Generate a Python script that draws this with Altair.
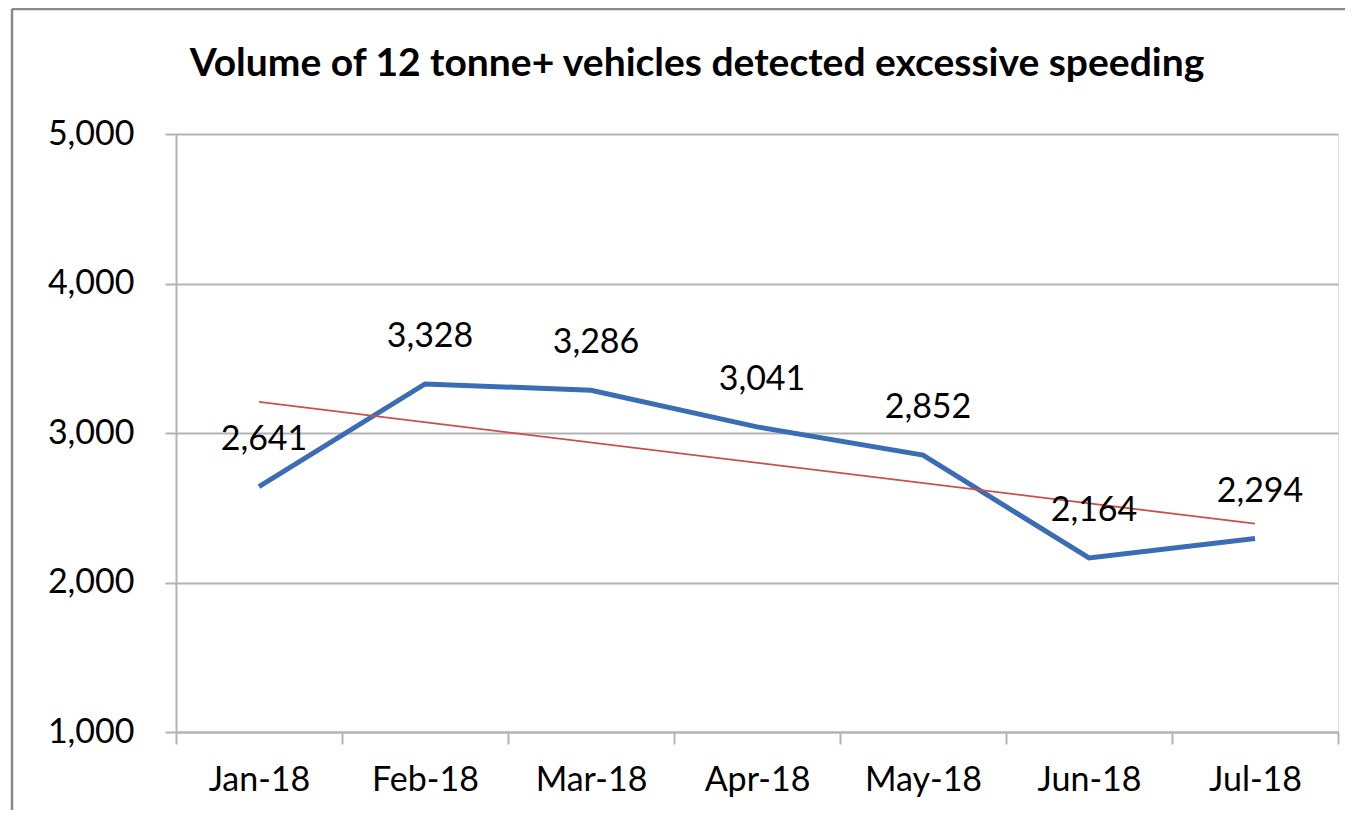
import altair as alt
import pandas as pd
import numpy as np

months = ["Jan-18", "Feb-18", "Mar-18", "Apr-18", "May-18", "Jun-18", "Jul-18"]
values = [2641, 3328, 3286, 3041, 2852, 2164, 2294]
y_ticks = [1000, 2000, 3000, 4000, 5000]
title_text = "Volume of 12 tonne+ vehicles detected excessive speeding"

idx = np.arange(1, len(values) + 1)
slope, intercept = np.polyfit(idx, values, 1)
trend = [slope * i + intercept for i in idx]

df = pd.DataFrame({"month": months, "value": values, "trend": trend})
tdf = pd.DataFrame({"month": [months[0], months[-1]], "trend": [trend[0], trend[-1]]})

FONT = "Lato"
GRID = "#b3b3b3"
FS = 34

xenc = alt.X("month:N", sort=months, title=None,
             scale=alt.Scale(type="band", paddingInner=0, paddingOuter=0),
             bandPosition=0.5,
             axis=alt.Axis(labelAngle=0, tickBand="extent", tickSize=12, tickColor=GRID,
                           domainColor=GRID, domainWidth=2, tickWidth=2, grid=False,
                           labelFont=FONT, labelFontSize=FS, labelColor="#000000",
                           labelPadding=19))
yscale = alt.Scale(domain=[1000, 5000], nice=False, zero=False)
yenc = alt.Y("value:Q", scale=yscale, title=None,
             axis=alt.Axis(values=y_ticks, format=",.0f", tickSize=11, tickColor=GRID,
                           domainColor=GRID, domainWidth=2, tickWidth=2,
                           gridColor=GRID, gridWidth=2,
                           labelFont=FONT, labelFontSize=FS, labelColor="#000000",
                           labelPadding=31))

base = alt.Chart(df)

line = base.mark_line(color="#3b6db4", strokeWidth=5).encode(x=xenc, y=yenc)

trend_line = alt.Chart(tdf).mark_line(color="#c9504d", strokeWidth=1.8).encode(
    x=alt.X("month:N", sort=months, bandPosition=0.5),
    y=alt.Y("trend:Q", scale=yscale))

labels = base.mark_text(font=FONT, fontSize=FS, color="#000000", baseline="alphabetic",
                        dy=-37, dx=5).encode(
    x=alt.X("month:N", sort=months, bandPosition=0.5),
    y=alt.Y("value:Q", scale=yscale),
    text=alt.Text("value:Q", format=","))

one = pd.DataFrame({"a": [0]})
title = alt.Chart(one).mark_text(text=title_text, font=FONT, fontSize=39, fontWeight="bold",
                                 color="#000000", baseline="middle", align="center").encode(
    x=alt.value(521), y=alt.value(-70))

frame_left = alt.Chart(one).mark_rule(color="#8a8a8a", strokeWidth=2.5).encode(
    x=alt.value(-164), y=alt.value(-125), y2=alt.value(700))
frame_top = alt.Chart(one).mark_rule(color="#8a8a8a", strokeWidth=2.5).encode(
    x=alt.value(-164), x2=alt.value(1200), y=alt.value(-125))

chart = alt.layer(line, trend_line, labels, title, frame_left, frame_top).properties(
    width=1162, height=598,
    padding={"left": 168, "top": 126, "right": 7, "bottom": 78},
    autosize=alt.AutoSizeParams(type="none"),
).configure_view(stroke=None).configure(background="#ffffff")

chart.save("out.html", embed_options={"renderer": "svg", "actions": False})
